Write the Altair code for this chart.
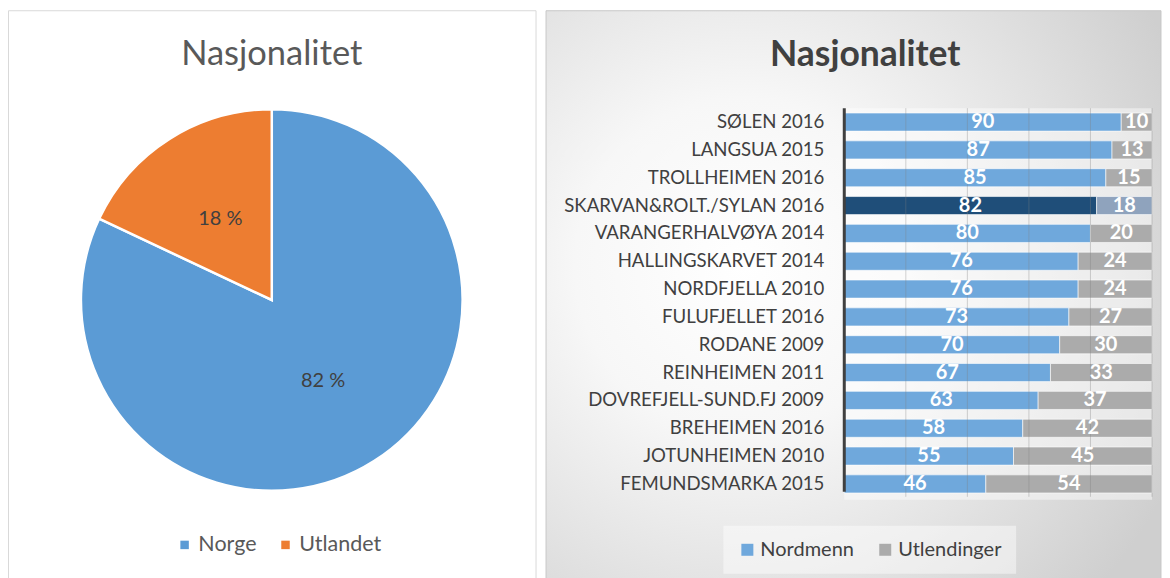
import altair as alt
import pandas as pd

# ---------------- data ----------------
TITLE = "Nasjonalitet"

pie_cats = ["Norge", "Utlandet"]
pie_vals = [82, 18]
pie_colors = ["#5B9BD5", "#ED7D31"]

areas = [
    "SØLEN 2016",
    "LANGSUA 2015",
    "TROLLHEIMEN 2016",
    "SKARVAN&ROLT./SYLAN 2016",
    "VARANGERHALVØYA 2014",
    "HALLINGSKARVET 2014",
    "NORDFJELLA 2010",
    "FULUFJELLET 2016",
    "RODANE 2009",
    "REINHEIMEN 2011",
    "DOVREFJELL-SUND.FJ 2009",
    "BREHEIMEN 2016",
    "JOTUNHEIMEN 2010",
    "FEMUNDSMARKA 2015",
]
nordmenn = [90, 87, 85, 82, 80, 76, 76, 73, 70, 67, 63, 58, 55, 46]
utlendinger = [10, 13, 15, 18, 20, 24, 24, 27, 30, 33, 37, 42, 45, 54]
highlight = "SKARVAN&ROLT./SYLAN 2016"
groups = ["Nordmenn", "Utlendinger"]
bar_keys = ["Nordmenn", "Utlendinger", "Nordmenn (utvalgt)", "Utlendinger (utvalgt)"]
bar_colors = ["#6FA8DC", "#ABABAB", "#1F4E79", "#8FA3BD"]
grid_ticks = [20, 40, 60, 80, 100]

# ---------------- layout ----------------
LW, RW, H = 529, 616, 572
FONT = "Lato"

pie_df = pd.DataFrame({
    "cat": pie_cats,
    "value": pie_vals,
    "order": list(range(len(pie_cats))),
})
pie_df["label"] = [f"{v} %" for v in pie_vals]

rows = []
for a, n, u in zip(areas, nordmenn, utlendinger):
    for i, (g, v) in enumerate(zip(groups, [n, u])):
        key = g + " (utvalgt)" if a == highlight else g
        rows.append({"area": a, "group": g, "value": v, "order": i, "key": key})
bar_df = pd.DataFrame(rows)

one = pd.DataFrame({"t": [TITLE]})

# ---------------- left panel (pie) ----------------
CX, CY = 264, 290

left_frame = alt.Chart(one).mark_rect(fill="white", stroke="#D9D9D9", strokeWidth=1).encode(
    x=alt.value(0.5), x2=alt.value(LW - 0.5), y=alt.value(0.5), y2=alt.value(H)
)
left_title = alt.Chart(one).mark_text(
    font=FONT, fontSize=34.5, color="#595959", baseline="middle"
).encode(text="t:N", x=alt.value(CX), y=alt.value(45))

arcs = alt.Chart(pie_df).mark_arc(radius=191, stroke="white", strokeWidth=2.5).encode(
    theta=alt.Theta("value:Q", stack=True),
    order=alt.Order("order:Q"),
    color=alt.Color(
        "cat:N",
        scale=alt.Scale(domain=pie_cats, range=pie_colors),
        legend=alt.Legend(
            orient="none", legendX=166, legendY=524, direction="horizontal",
            title=None, symbolType="square", symbolSize=72, symbolStrokeWidth=0,
            labelFont=FONT, labelFontSize=21.5, labelColor="#595959",
            labelOffset=3, columnPadding=18, padding=0,
        ),
    ),
    x=alt.value(CX), y=alt.value(CY),
)
pie_text = alt.Chart(pie_df).mark_text(
    radius=96, font=FONT, fontSize=20, color="#404040"
).encode(
    theta=alt.Theta("value:Q", stack=True),
    order=alt.Order("order:Q"),
    text="label:N",
    x=alt.value(CX), y=alt.value(CY),
)

left = alt.layer(left_frame, left_title, arcs, pie_text).properties(width=LW, height=H)

# ---------------- right panel (bars) ----------------
X0, X1 = 299, 607
Y0, Y1 = 98, 488

bg = alt.Chart(one).mark_rect(
    fill={
        "gradient": "radial",
        "x1": 0.32, "y1": 0.45, "r1": 0.0,
        "x2": 0.32, "y2": 0.45, "r2": 0.78,
        "stops": [
            {"offset": 0.0, "color": "#FFFFFF"},
            {"offset": 0.35, "color": "#F7F7F7"},
            {"offset": 1.0, "color": "#CFCFCF"},
        ],
    },
    stroke="#C8C8C8", strokeWidth=1,
).encode(x=alt.value(0.5), x2=alt.value(RW), y=alt.value(0.5), y2=alt.value(H))

plot_bg = alt.Chart(one).mark_rect(fill="white", opacity=0.45).encode(
    x=alt.value(X0), x2=alt.value(X1), y=alt.value(Y0), y2=alt.value(Y1 + 2)
)

xscale = alt.Scale(domain=[0, 100], range=[X0, X1])
yscale = alt.Scale(domain=areas, range=[Y0, Y1], paddingInner=0.35, paddingOuter=0.175)

base = alt.Chart(bar_df).transform_stack(
    stack="value", groupby=["area"], as_=["x0", "x1"],
    sort=[alt.SortField("order", order="ascending")],
).transform_calculate(mid="(datum.x0 + datum.x1) / 2")

bars = base.mark_bar(stroke="white", strokeOpacity=0.6, strokeWidth=1).encode(
    x=alt.X("x0:Q", scale=xscale, axis=None),
    x2="x1:Q",
    y=alt.Y("area:N", scale=yscale, axis=None),
    color=alt.Color(
        "key:N",
        scale=alt.Scale(domain=bar_keys, range=bar_colors),
        legend=alt.Legend(
            values=groups, orient="none", legendX=178, legendY=516,
            direction="horizontal", title=None, symbolType="square",
            symbolSize=144, symbolStrokeWidth=0, labelFont=FONT,
            labelFontSize=20, labelColor="#404040", labelOffset=3,
            columnPadding=21, padding=14, fillColor="rgba(255,255,255,0.45)",
        ),
    ),
)

grid = alt.Chart(pd.DataFrame({"g": grid_ticks})).mark_rule(
    color="#7F7F7F", opacity=0.35, strokeWidth=1
).encode(x=alt.X("g:Q", scale=xscale, axis=None), y=alt.value(Y0), y2=alt.value(Y1 - 1))

axis_line = alt.Chart(pd.DataFrame({"a": [0]})).mark_rule(
    color="#404040", strokeWidth=3
).encode(x=alt.X("a:Q", scale=xscale, axis=None), y=alt.value(Y0), y2=alt.value(Y1 - 6))

vals = base.mark_text(
    font=FONT, fontWeight="bold", fontSize=20, color="white", baseline="middle"
).encode(
    x=alt.X("mid:Q", scale=xscale, axis=None),
    y=alt.Y("area:N", scale=yscale, axis=None),
    text="value:Q",
)

cat_labels = alt.Chart(pd.DataFrame({"area": areas})).mark_text(
    align="right", baseline="middle", font=FONT, fontSize=18.6, color="#404040"
).encode(
    x=alt.value(X0 - 20),
    y=alt.Y("area:N", scale=yscale, axis=None),
    text="area:N",
)

right_title = alt.Chart(one).mark_text(
    font=FONT, fontSize=35.5, fontWeight="bold", color="#404040", baseline="middle"
).encode(text="t:N", x=alt.value(320), y=alt.value(45))

right = alt.layer(
    bg, plot_bg, bars, grid, axis_line, vals, cat_labels, right_title
).properties(width=RW, height=H)

chart = alt.hconcat(left, right, spacing=9).resolve_scale(
    color="independent", theta="independent"
).resolve_legend(color="independent").configure_view(strokeWidth=0).properties(
    padding={"left": 0, "top": 2, "right": 0, "bottom": 0}, background="white"
)

chart.save("out.html", embed_options={"renderer": "svg", "actions": False})
